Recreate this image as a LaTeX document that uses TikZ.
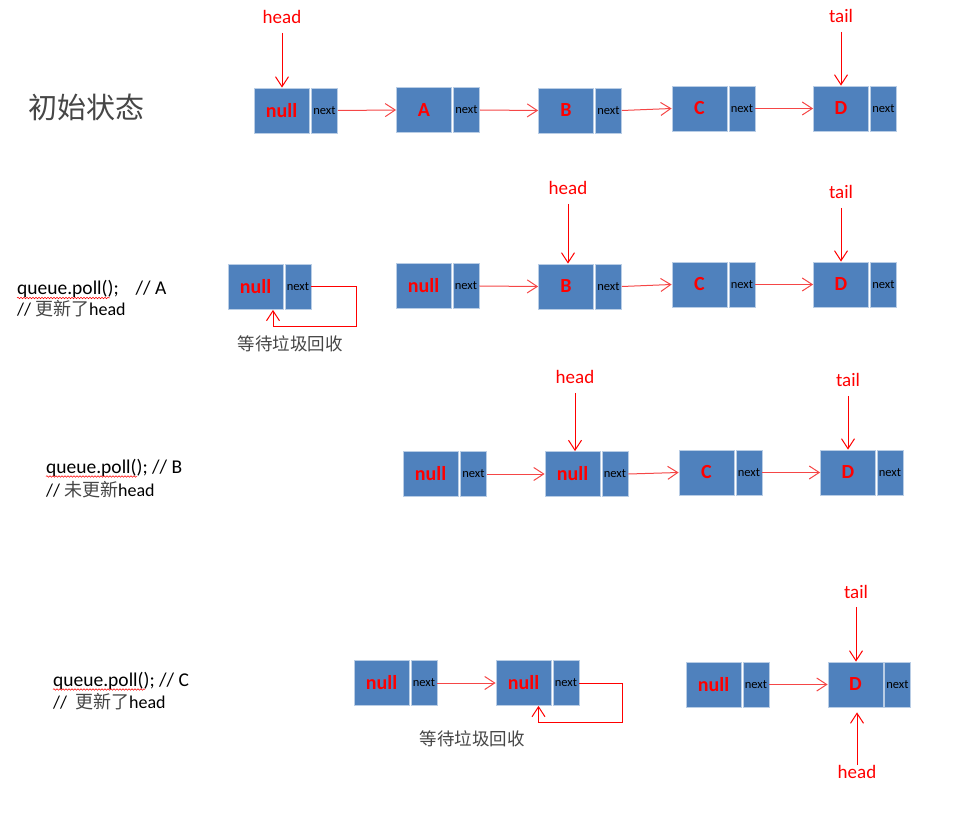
\documentclass[tikz,border=0pt]{standalone}
\usepackage{fontspec}
\setmainfont{Carlito}
\newfontfamily\cjk{Noto Sans CJK SC}
\usetikzlibrary{arrows.meta,decorations.pathmorphing}
\definecolor{boxblue}{RGB}{79,129,189}
\definecolor{boxedge}{RGB}{185,205,229}
\definecolor{linkred}{RGB}{245,70,70}
\definecolor{cjkgray}{RGB}{70,70,70}
\newcommand\fsz[1]{\fontsize{#1}{#1}\selectfont}
\begin{document}
\begin{tikzpicture}[x=1pt,y=-1pt,
  val/.style={draw=boxedge, fill=boxblue, line width=0.75pt, minimum width=55pt, minimum height=45pt, inner sep=0pt, text=red, font=\bfseries\fsz{20}},
  nxt/.style={draw=boxedge, fill=boxblue, line width=0.75pt, minimum width=26pt, minimum height=45pt, inner sep=0pt, text=black, font=\fsz{12.5}},
  link/.style={draw=linkred, line width=1pt, -{Straight Barb[length=10pt,width=13pt]}},
  ptr/.style={draw=red, line width=1pt, -{Straight Barb[length=10pt,width=13pt]}},
  lbl/.style={text=red, font=\fsz{19}, inner sep=0pt},
  code/.style={anchor=base west, inner sep=0pt, font=\fsz{19.5}},
  code2/.style={anchor=base west, inner sep=0pt, font=\fsz{18}},
  gc/.style={font=\cjk\fsz{17.5}, text=cjkgray, inner sep=0pt},
  squig/.style={draw=red, line width=0.5pt, decorate, decoration={snake, amplitude=0.8pt, segment length=3pt}}
]
\useasboundingbox (0,0) rectangle (975,818);

% ---------------- Row 1 ----------------
\node[font=\cjk\fsz{29}, text=cjkgray, inner sep=0pt] (title) at (86,107) {初始状态};
\node[val] (r1v0) at (281.5,110.5) {null};
\node[nxt] (r1n0) at (324.5,110.5) {next};
\node[val] (r1v1) at (424,110) {A};
\node[nxt] (r1n1) at (466.5,110) {next};
\node[val] (r1v2) at (566,110.5) {B};
\node[nxt] (r1n2) at (608.5,110.5) {next};
\node[val] (r1v3) at (699.5,108.5) {C};
\node[nxt] (r1n3) at (742,108.5) {next};
\node[val] (r1v4) at (841,108.5) {D};
\node[nxt] (r1n4) at (883.5,108.5) {next};
\node[lbl] (h1) at (282,17) {head};
\node[lbl] (t1) at (841,16) {tail};
\draw[link] (r1n0.east) -- (r1v1.west);
\draw[link] (r1n1.east) -- (r1v2.west);
\draw[link] (r1n2.east) -- (r1v3.west);
\draw[link] (r1n3.east) -- (r1v4.west);
\draw[ptr, shorten <=9pt] (h1.south) -- (h1.south |- r1v0.north);
\draw[ptr, shorten <=9pt] (t1.south) -- (t1.south |- r1v4.north);

% ---------------- Row 2 ----------------
\node[code] (c2a) at (17,295) {queue.poll();\hspace{17pt}// A};
\node[code2] (c2b) at (17,316) {// {\cjk\color{cjkgray}更新了}head};
\coordinate (s2a) at (17,298);
\coordinate (s2b) at (110,298);
\draw[squig] (s2a) -- (s2b);
\node[val] (g1v) at (255.5,287) {null};
\node[nxt] (g1n) at (298,287) {next};
\coordinate (g1c) at (356,327);
\draw[ptr] (g1n.east) -| (g1c) -| ([xshift=17.5pt]g1v.south);
\node[gc] (gc1) at (290,344) {等待垃圾回收};
\node[val] (r2v0) at (423.5,286) {null};
\node[nxt] (r2n0) at (466,286) {next};
\node[val] (r2v1) at (566,286.5) {B};
\node[nxt] (r2n1) at (608.5,286.5) {next};
\node[val] (r2v2) at (699.5,284.5) {C};
\node[nxt] (r2n2) at (742,284.5) {next};
\node[val] (r2v3) at (841,284.5) {D};
\node[nxt] (r2n3) at (883.5,284.5) {next};
\node[lbl] (h2) at (568,188) {head};
\node[lbl] (t2) at (841,192) {tail};
\draw[link] (r2n0.east) -- (r2v1.west);
\draw[link] (r2n1.east) -- (r2v2.west);
\draw[link] (r2n2.east) -- (r2v3.west);
\draw[ptr, shorten <=9pt] (h2.south) -- (h2.south |- r2v1.north);
\draw[ptr, shorten <=9pt] (t2.south) -- (t2.south |- r2v3.north);

% ---------------- Row 3 ----------------
\node[code] (c3a) at (46,473) {queue.poll(); // B};
\node[code2] (c3b) at (46,496) {// {\cjk\color{cjkgray}未更新}head};
\coordinate (s3a) at (46,476.5);
\coordinate (s3b) at (137,476.5);
\draw[squig] (s3a) -- (s3b);
\node[val] (r3v0) at (430.5,474) {null};
\node[nxt] (r3n0) at (473.5,474) {next};
\node[val] (r3v1) at (572.5,474) {null};
\node[nxt] (r3n1) at (615,474) {next};
\node[val] (r3v2) at (706.5,472.5) {C};
\node[nxt] (r3n2) at (749,472.5) {next};
\node[val] (r3v3) at (848,472.5) {D};
\node[nxt] (r3n3) at (890,472.5) {next};
\node[lbl] (h3) at (575,377) {head};
\node[lbl] (t3) at (848,380) {tail};
\draw[link] (r3n0.east) -- (r3v1.west);
\draw[link] (r3n1.east) -- (r3v2.west);
\draw[link] (r3n2.east) -- (r3v3.west);
\draw[ptr, shorten <=9pt] (h3.south) -- (h3.south |- r3v1.north);
\draw[ptr, shorten <=9pt] (t3.south) -- (t3.south |- r3v3.north);

% ---------------- Row 4 ----------------
\node[code] (c4a) at (53,686) {queue.poll(); // C};
\node[code2] (c4b) at (53,708) {//\hspace{8pt}{\cjk\color{cjkgray}更新了}head};
\coordinate (s4a) at (53,689.5);
\coordinate (s4b) at (145,689.5);
\draw[squig] (s4a) -- (s4b);
\node[val] (r4v0) at (381.5,683) {null};
\node[nxt] (r4n0) at (424,683) {next};
\node[val] (r4v1) at (523.5,683) {null};
\node[nxt] (r4n1) at (566,683) {next};
\coordinate (g2c) at (622,722);
\draw[ptr] (r4n1.east) -| (g2c) -| ([xshift=15pt]r4v1.south);
\node[gc] (gc2) at (472,739) {等待垃圾回收};
\draw[link] (r4n0.east) -- (r4v1.west);
\node[val] (r4v2) at (713.5,684.5) {null};
\node[nxt] (r4n2) at (756,684.5) {next};
\node[val] (r4v3) at (855.5,684.5) {D};
\node[nxt] (r4n3) at (897.5,684.5) {next};
\draw[link] (r4n2.east) -- (r4v3.west);
\node[lbl] (t4) at (856,592) {tail};
\node[lbl] (h4) at (857,772) {head};
\draw[ptr, shorten <=8pt] (t4.south) -- (t4.south |- r4v3.north);
\draw[ptr, shorten >=5pt] (h4.north) -- (h4.north |- r4v3.south);
\end{tikzpicture}
\end{document}
